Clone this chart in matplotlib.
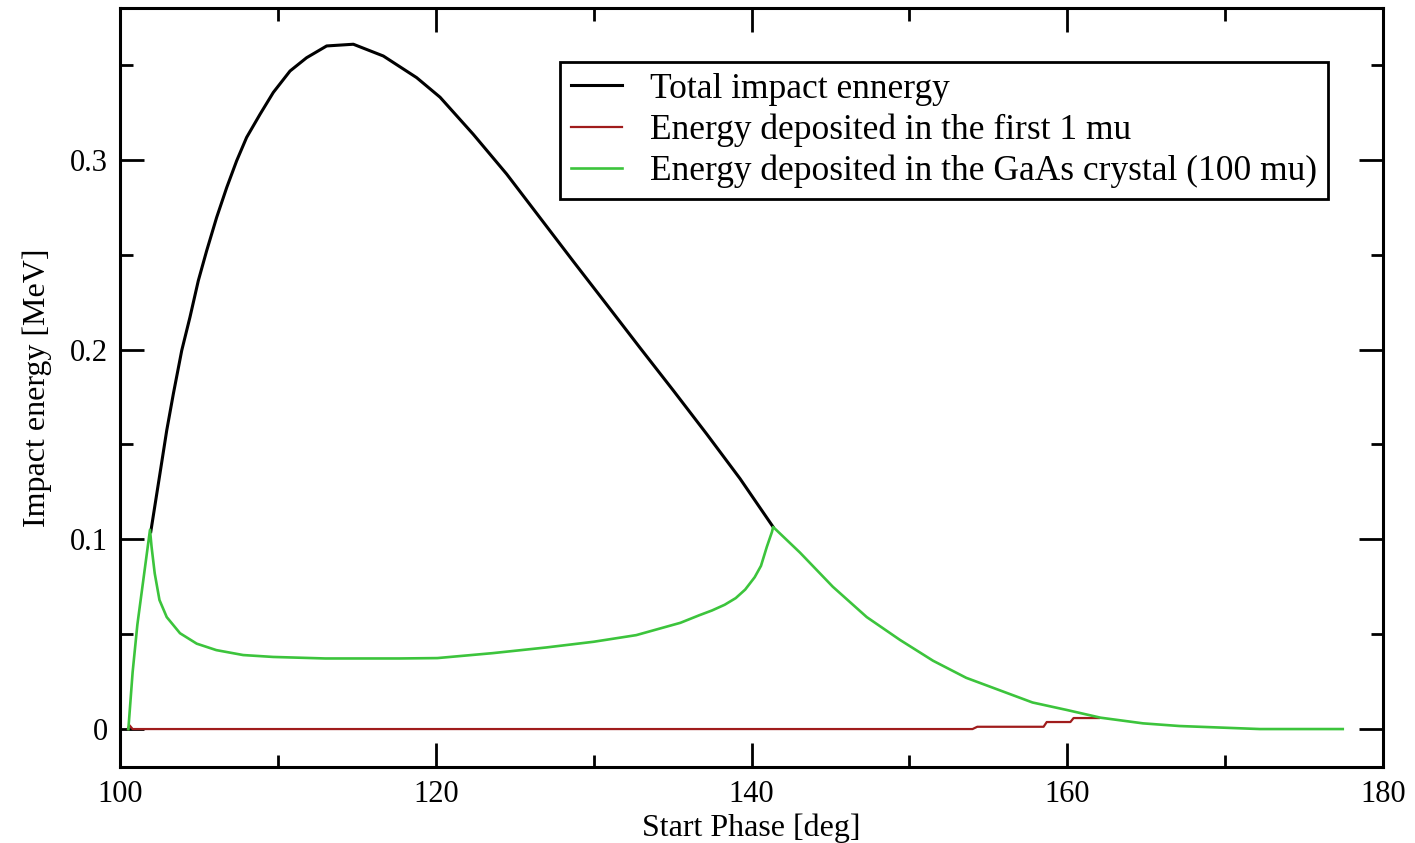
import matplotlib
matplotlib.use('Agg')
import matplotlib.pyplot as plt
from matplotlib.ticker import MultipleLocator, FuncFormatter

plt.rcParams['font.family'] = ['Liberation Serif', 'DejaVu Serif']

# Total impact energy
black_x = [101.95, 102.53, 102.96, 103.38, 103.91, 104.43, 104.96, 105.49, 106.12, 106.76,
           107.39, 108.02, 108.87, 109.71, 110.77, 111.82, 113.09, 114.78, 116.68, 118.79,
           120.27, 122.37, 124.49, 126.6, 128.71, 130.82, 132.93, 135.04, 137.16, 139.27,
           141.37]
black_y = [0.104, 0.1346, 0.1574, 0.1767, 0.1995, 0.217, 0.2363, 0.2521, 0.2696, 0.2854,
           0.2995, 0.3118, 0.324, 0.3355, 0.3468, 0.3538, 0.360, 0.3609, 0.3547, 0.3433,
           0.3330, 0.3135, 0.2925, 0.2695, 0.2465, 0.2238, 0.2010, 0.1785, 0.1555, 0.1320,
           0.1065]

# Energy deposited in the first 1 mu
red_x = [100.5, 100.6, 100.8, 154.0, 154.3, 158.5, 158.7, 160.2, 160.4, 162.0]
red_y = [0.0, 0.002, 0.0, 0.0, 0.0012, 0.0012, 0.0037, 0.0037, 0.0058, 0.0058]

# Energy deposited in the GaAs crystal (100 mu)
green_x = [100.53, 100.8, 101.1, 101.5, 101.9, 102.0, 102.2, 102.5, 102.96,
           103.8, 104.86, 106.1, 107.8, 109.7, 113.0, 117.7, 120.1, 123.6, 127.0,
           130.0, 132.7, 135.5, 136.7, 137.5, 138.3, 139.0, 139.6, 140.2, 140.6,
           140.97, 141.3, 141.37, 143.07, 145.15, 147.3, 149.4, 151.5, 153.6, 155.7,
           157.8, 160.0, 162.1, 164.8, 167.1, 172.2, 177.45]
green_y = [0.0, 0.03, 0.055, 0.08, 0.105, 0.096, 0.082, 0.068, 0.059,
           0.0505, 0.045, 0.0416, 0.039, 0.038, 0.0372, 0.0372, 0.0374, 0.040, 0.043,
           0.046, 0.0495, 0.056, 0.060, 0.0625, 0.0655, 0.069, 0.0735, 0.080, 0.086,
           0.096, 0.104, 0.1065, 0.093, 0.075, 0.059, 0.047, 0.036, 0.027, 0.0205,
           0.014, 0.010, 0.006, 0.003, 0.0016, 0.0, 0.0]

fig = plt.figure(figsize=(14.15, 8.43), dpi=100)
ax = fig.add_axes([120/1415, 1-767/843, (1383-120)/1415, (767-8)/843])

ax.plot(black_x, black_y, color='black', lw=2.2, label='Total impact ennergy')
ax.plot(red_x, red_y, color='#a01c1c', lw=1.6, label='Energy deposited in the first 1 mu')
ax.plot(green_x, green_y, color='#3cc43c', lw=1.9,
        label='Energy deposited in the GaAs crystal (100 mu)')

ax.set_xlim(100, 180)
ax.set_ylim(-0.02, 0.38)

ax.xaxis.set_major_locator(MultipleLocator(20))
ax.xaxis.set_minor_locator(MultipleLocator(10))
ax.yaxis.set_major_locator(MultipleLocator(0.1))
ax.yaxis.set_minor_locator(MultipleLocator(0.05))
ax.yaxis.set_major_formatter(FuncFormatter(lambda v, p: '%g' % round(v, 3)))

ax.tick_params(which='both', direction='in', top=True, right=True, width=2)
ax.tick_params(which='major', length=17, labelsize=22, pad=9)
ax.tick_params(which='minor', length=9)
for s in ax.spines.values():
    s.set_linewidth(2.2)

ax.set_xlabel('Start Phase [deg]', fontsize=23)
ax.set_ylabel('Impact energy [MeV]', fontsize=23)
ax.xaxis.set_label_coords(0.5, -0.061)
ax.yaxis.set_label_coords(-0.054, 0.5)

leg = ax.legend(loc='upper left', bbox_to_anchor=(560/1415, 1-62/843),
                bbox_transform=fig.transFigure, borderaxespad=0, fontsize=25.5,
                fancybox=False, framealpha=1, edgecolor='black',
                handlelength=1.45, handletextpad=0.8, labelspacing=0.22,
                borderpad=0.3)
leg.get_frame().set_linewidth(2)

fig.savefig('out.png', dpi=100, facecolor='white')
